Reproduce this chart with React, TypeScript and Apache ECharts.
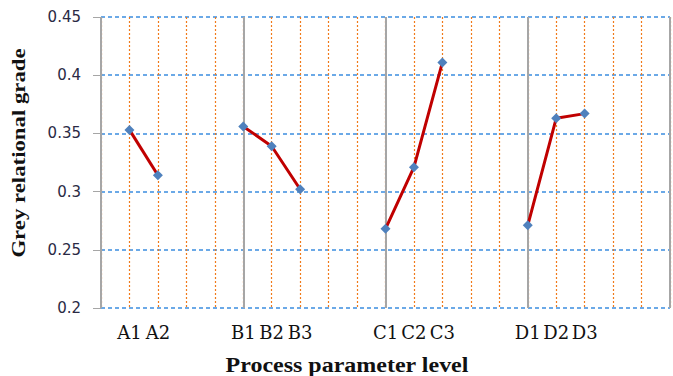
import React, { useEffect, useRef } from "react";
import * as echarts from "echarts";

// Level positions on the x scale (tick index) and grey relational grades
const levelLabels = ["A1", "A2", "B1", "B2", "B3", "C1", "C2", "C3", "D1", "D2", "D3"];
const levelPositions = [1, 2, 5, 6, 7, 10, 11, 12, 15, 16, 17];
const groupA = [0.353, 0.314];
const groupB = [0.356, 0.339, 0.302];
const groupC = [0.268, 0.321, 0.411];
const groupD = [0.271, 0.363, 0.367];
const yTicks = [0.2, 0.25, 0.3, 0.35, 0.4, 0.45];

export default function App() {
  const ref = useRef<HTMLDivElement>(null);
  useEffect(() => {
    const chart = echarts.init(ref.current!, undefined, { renderer: "svg" });
    const groups = [groupA, groupB, groupC, groupD];
    let k = 0;
    const series = groups.map((g) => {
      const data = g.map((v) => {
        const p = [levelPositions[k], v];
        k++;
        return p;
      });
      return {
        type: "line",
        data,
        xAxisIndex: 0,
        symbol: "diamond",
        symbolSize: 10,
        lineStyle: { color: "#c00000", width: 3 },
        itemStyle: { color: "#4f81bd" },
        z: 5,
      };
    });
    const labelMap: Record<number, string> = {};
    levelPositions.forEach((p, i) => (labelMap[p] = levelLabels[i]));
    chart.setOption({
      animation: false,
      grid: { left: 101, top: 17, width: 576, height: 291 },
      xAxis: [
        {
          type: "value",
          min: 0,
          max: 20,
          interval: 1,
          axisLine: { show: false },
          axisTick: { show: false },
          axisLabel: {
            show: true,
            margin: 15,
            fontFamily: "DejaVu Serif, serif",
            fontSize: 18,
            color: "#111",
            formatter: (v: number) => labelMap[v] ?? "",
          },
          splitLine: {
            show: true,
            lineStyle: { color: "#f07a1a", type: [2, 2], width: 1.2 },
          },
        },
        {
          type: "value",
          min: 0,
          max: 20,
          interval: 5,
          position: "bottom",
          axisLine: { show: false },
          axisTick: { show: false },
          axisLabel: { show: false },
          splitLine: {
            show: true,
            lineStyle: { color: "#a6a6a6", type: "solid", width: 2 },
          },
        },
      ],
      yAxis: {
        type: "value",
        min: 0.2,
        max: 0.45,
        interval: 0.05,
        axisLine: { show: false },
        axisTick: { show: true, length: 8, lineStyle: { color: "#a6a6a6" } },
        axisLabel: {
          margin: 20,
          fontFamily: "DejaVu Sans, sans-serif",
          fontSize: 15,
          color: "#2a2a44",
          formatter: (v: number) => {
            const m = yTicks.find((t) => Math.abs(t - v) < 1e-6);
            return m !== undefined ? String(m) : "";
          },
        },
        splitLine: {
          show: true,
          lineStyle: { color: "#3b8de0", type: [4, 3], width: 1.5 },
        },
      },
      series,
      graphic: [
        {
          type: "text",
          x: 19,
          y: 153,
          rotation: Math.PI / 2,
          scaleX: 1.2,
          style: {
            text: "Grey relational grade",
            font: "bold 19px 'Liberation Serif', serif",
            fill: "#111",
            textAlign: "center",
            textVerticalAlign: "middle",
          },
        },
        {
          type: "text",
          x: 347,
          y: 365,
          scaleX: 1.2,
          style: {
            text: "Process parameter level",
            font: "bold 20px 'Liberation Serif', serif",
            fill: "#111",
            textAlign: "center",
            textVerticalAlign: "middle",
          },
        },
      ],
    });
    return () => chart.dispose();
  }, []);
  return (
    <div
      ref={ref}
      style={{ position: "fixed", left: 0, top: 0, width: 673, height: 376, background: "#fff" }}
    />
  );
}
